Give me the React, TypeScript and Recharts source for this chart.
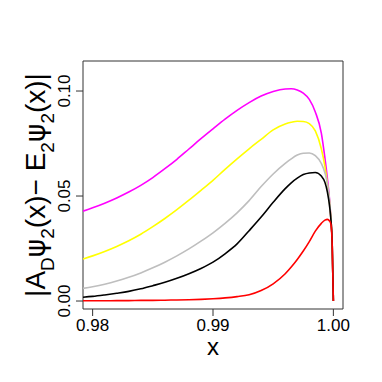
import { LineChart, Line, XAxis, YAxis, ReferenceArea } from "recharts";

const xValues = [
  0.9792, 0.98, 0.981, 0.982, 0.983, 0.984, 0.985, 0.986, 0.987, 0.988, 0.989, 0.99, 0.991, 0.992, 0.993,
  0.994, 0.995, 0.996, 0.9965, 0.997, 0.9975, 0.998, 0.9985, 0.999, 0.9993, 0.9995, 0.9997, 0.9998, 0.9999,
  1.0,
];
const magenta = [
  0.0428, 0.0444, 0.0466, 0.0491, 0.0519, 0.0551, 0.0588, 0.063, 0.0675, 0.0724, 0.0773, 0.082, 0.0866,
  0.0908, 0.0945, 0.0976, 0.0998, 0.101, 0.1011, 0.1005, 0.099, 0.096, 0.09, 0.08, 0.068, 0.0585, 0.047,
  0.0385, 0.028, 0,
];
const yellow = [
  0.02, 0.0215, 0.0236, 0.026, 0.0287, 0.0318, 0.0354, 0.0393, 0.0435, 0.048, 0.0527, 0.0575, 0.0627,
  0.0677, 0.0725, 0.077, 0.0815, 0.0843, 0.0851, 0.0856, 0.0855, 0.0845, 0.081, 0.0725, 0.064, 0.056,
  0.046, 0.0385, 0.028, 0,
];
const gray = [
  0.006, 0.0068, 0.008, 0.0095, 0.0113, 0.0134, 0.0158, 0.0185, 0.0215, 0.0248, 0.0285, 0.0325, 0.037,
  0.042, 0.0478, 0.0545, 0.0605, 0.0655, 0.0677, 0.0695, 0.0704, 0.0705, 0.0692, 0.0655, 0.061, 0.056,
  0.047, 0.0385, 0.028, 0,
];
const black = [
  0.0018, 0.0022, 0.0029, 0.0037, 0.0046, 0.0058, 0.0073, 0.0089, 0.0108, 0.013, 0.0155, 0.0185, 0.0225,
  0.0272, 0.0335, 0.04, 0.047, 0.0535, 0.0563, 0.0585, 0.0602, 0.061, 0.0612, 0.0595, 0.0565, 0.052,
  0.0445, 0.0385, 0.028, 0,
];
const red = [
  0.0001, 0.0001, 0.0001, 0.0002, 0.0002, 0.0003, 0.0003, 0.0004, 0.0005, 0.0006, 0.0008, 0.0011, 0.0015,
  0.0021, 0.003, 0.005, 0.0082, 0.013, 0.0162, 0.0198, 0.0238, 0.0283, 0.0333, 0.037, 0.0385, 0.0389,
  0.038, 0.0365, 0.027, 0,
];

const xTicks = [0.98, 0.99, 1.0];
const yTicks = [0, 0.05, 0.1];
const xDomain = [0.9792, 1.0008];
const yDomain = [-0.0038, 0.1143];

const data = xValues.map((x, i) => ({
  x,
  magenta: magenta[i],
  yellow: yellow[i],
  gray: gray[i],
  black: black[i],
  red: red[i],
}));

const series = [
  { key: "magenta", color: "#ff00ff" },
  { key: "yellow", color: "#ffff00" },
  { key: "gray", color: "#bebebe" },
  { key: "black", color: "#000000" },
  { key: "red", color: "#ff0000" },
];

const font = "'Liberation Sans', Arial, sans-serif";
const psiFont = "'DejaVu Sans', sans-serif";

function XTick({ x, y, payload }: any) {
  return (
    <text x={x} y={y + 13} textAnchor="middle" fontSize={17} fontFamily={font} fill="#000">
      {payload.value.toFixed(2)}
    </text>
  );
}

function YTick({ x, y, payload }: any) {
  const bx = x - 4;
  return (
    <text
      x={bx}
      y={y}
      transform={`rotate(-90, ${bx}, ${y})`}
      textAnchor="middle"
      fontSize={17}
      fontFamily={font}
      fill="#000"
    >
      {payload.value.toFixed(2)}
    </text>
  );
}

function YLabel() {
  const cx = 45;
  const cy = 185;
  const sub = 19;
  const d = 9;
  return (
    <text
      x={cx}
      y={cy}
      transform={`rotate(-90, ${cx}, ${cy})`}
      textAnchor="middle"
      fontSize={28}
      fontFamily={font}
      fill="#000"
    >
      <tspan>|A</tspan>
      <tspan fontSize={sub} dy={d}>D</tspan>
      <tspan dy={-d} fontFamily={psiFont}>ψ</tspan>
      <tspan fontSize={sub} dy={d}>2</tspan>
      <tspan dy={-d}>(x)− E</tspan>
      <tspan fontSize={sub} dy={d}>2</tspan>
      <tspan dy={-d} fontFamily={psiFont}>ψ</tspan>
      <tspan fontSize={sub} dy={d}>2</tspan>
      <tspan dy={-d}>(x)|</tspan>
    </text>
  );
}

function XLabel({ viewBox }: any) {
  return (
    <text x={viewBox.x + viewBox.width / 2} y={355} textAnchor="middle" fontSize={24} fontFamily={font} fill="#000">
      x
    </text>
  );
}

export default function App() {
  return (
    <div style={{ position: "absolute", left: 0, top: 0, background: "#fff" }}>
      <LineChart width={382} height={382} data={data} margin={{ top: 61, right: 39, bottom: 0, left: 0 }}>
        <XAxis
          dataKey="x"
          type="number"
          domain={xDomain}
          ticks={xTicks}
          allowDataOverflow
          height={73}
          tickSize={7}
          axisLine={false}
          tickLine={{ stroke: "#333" }}
          tick={<XTick />}
          label={{ content: <XLabel /> }}
        />
        <YAxis
          type="number"
          domain={yDomain}
          ticks={yTicks}
          allowDataOverflow
          width={83}
          tickSize={7}
          axisLine={false}
          tickLine={{ stroke: "#333" }}
          tick={<YTick />}
          label={{ content: <YLabel /> }}
        />
        <ReferenceArea
          x1={xDomain[0]}
          x2={xDomain[1]}
          y1={yDomain[0]}
          y2={yDomain[1]}
          fill="none"
          stroke="#333"
          strokeWidth={1}
          ifOverflow="visible"
        />
        {series.map((s) => (
          <Line
            key={s.key}
            dataKey={s.key}
            type="monotone"
            stroke={s.color}
            strokeWidth={1.6}
            dot={false}
            isAnimationActive={false}
          />
        ))}
      </LineChart>
    </div>
  );
}
